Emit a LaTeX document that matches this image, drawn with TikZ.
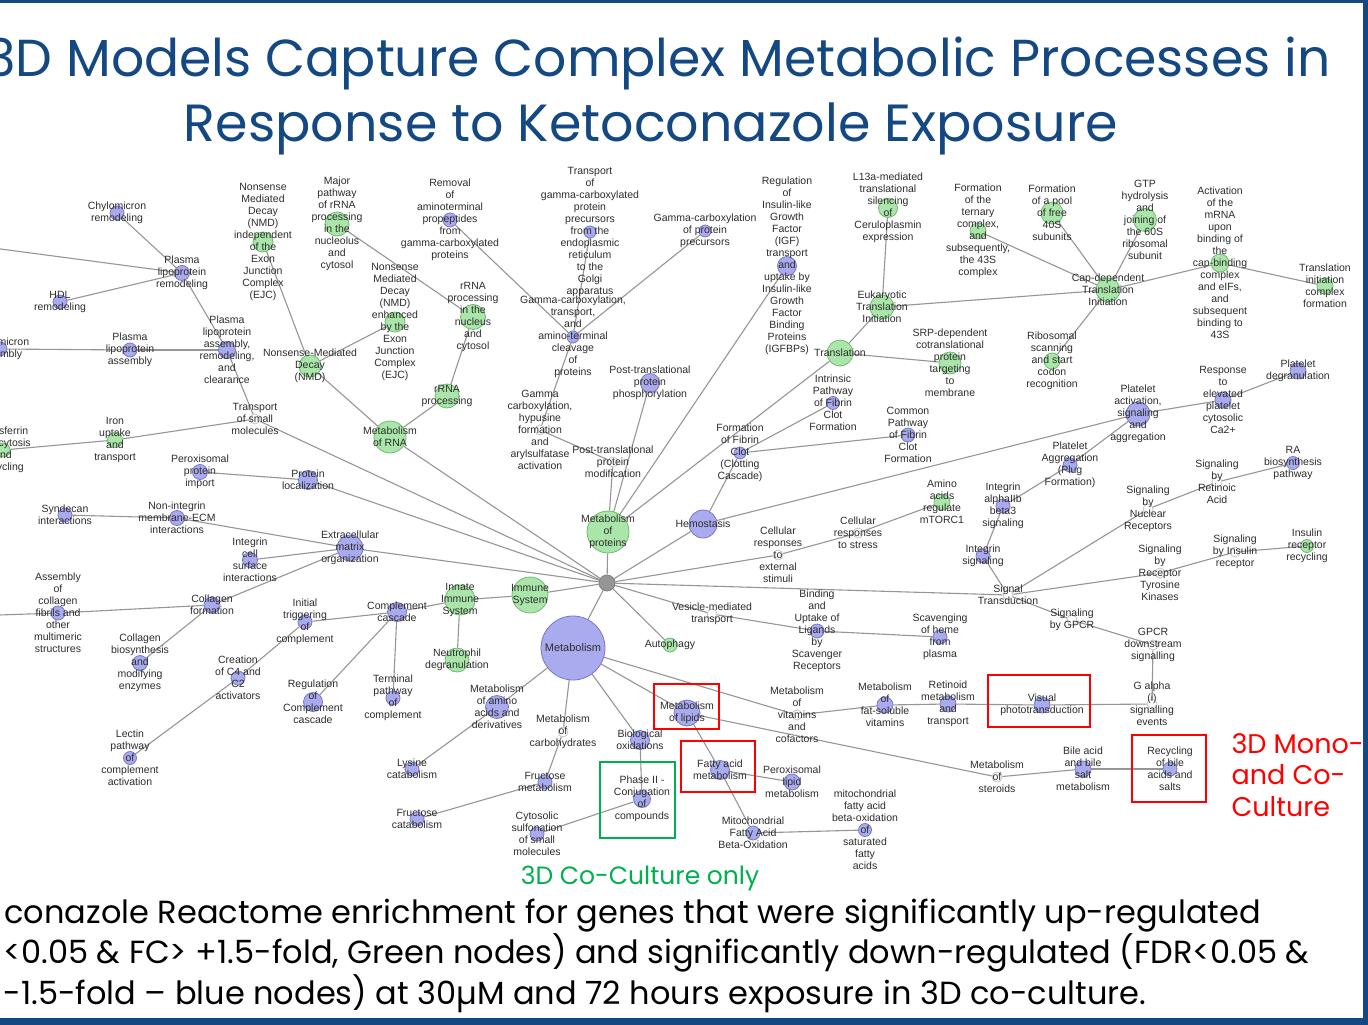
\documentclass[tikz,border=0pt]{standalone}
\usepackage{fontspec}
\setmainfont{Liberation Sans}
\newfontfamily\ttlfont{Poppins}
\usepackage{tikz}
\usetikzlibrary{backgrounds}
\usetikzlibrary{positioning}

\definecolor{bnfill}{RGB}{170,170,238}
\definecolor{bndraw}{RGB}{120,120,200}
\definecolor{gnfill}{RGB}{170,230,170}
\definecolor{gndraw}{RGB}{115,185,115}
\definecolor{wndraw}{RGB}{195,195,195}
\definecolor{hubfill}{RGB}{150,150,150}
\definecolor{edgegray}{RGB}{150,150,150}
\definecolor{lbltext}{RGB}{45,45,45}
\definecolor{ttlblue}{RGB}{20,72,130}
\definecolor{boxred}{RGB}{255,0,0}
\definecolor{boxgreen}{RGB}{0,176,80}

\newcommand{\lblfont}{\fontsize{10.5}{12}\selectfont}

\tikzset{
  pnode/.style={circle, inner sep=0pt, line width=0.8pt},
  bn/.style={pnode, draw=bndraw, fill=bnfill, minimum size=#1pt},
  gn/.style={pnode, draw=gndraw, fill=gnfill, minimum size=#1pt},
  wn/.style={pnode, draw=wndraw, fill=white, minimum size=#1pt},
  hubnode/.style={pnode, draw=gray, fill=hubfill, minimum size=16pt},
  markbox/.style={line width=2.4pt}
}

\begin{document}
\begin{tikzpicture}[x=1pt, y=-1pt]
	\useasboundingbox (0,0) rectangle (1368,1025);
	\begin{pgfonlayer}{background}
		\fill[white] (0,0) rectangle (1368,1025);
	\end{pgfonlayer}

	\fill[ttlblue] (0,0) rectangle (1368,3);
	\fill[ttlblue] (1363,0) rectangle (1368,1025);
	\fill[ttlblue] (0,1018) rectangle (1368,1025);

	\node[anchor=base east, font=\ttlfont\fontsize{52}{60}\selectfont, text=ttlblue] (title1) at (1334,77) {3D Models Capture Complex Metabolic Processes in};
	\node[anchor=base, font=\ttlfont\fontsize{52.3}{60}\selectfont, text=ttlblue] (title2) at (651,141) {Response to Ketoconazole Exposure};

	\begin{scope}[every label/.style={align=center, font=\lblfont, text=lbltext, inner sep=0pt}]
		\node[hubnode] (hub) at (607,583) {};
		\node[bn=64, label=center:{\fontsize{11}{12}\selectfont Metabolism}] (metab) at (573,648) {};
		\node[gn=42, label=center:{Metabolism\\of\\proteins}] (metprot) at (608,532) {};
		\node[gn=36, label=center:{Immune\\System}] (immune) at (530,595) {};
		\node[gn=30, label=center:{Innate\\Immune\\System}] (innate) at (460,600) {};
		\node[gn=24, label=center:{Neutrophil\\degranulation}] (neutro) at (457,660) {};
		\node[bn=28, label=center:{Hemostasis}] (hemo) at (703,524) {};
		\node[gn=32, label=center:{Metabolism\\of RNA}] (metrna) at (390,437) {};
		\node[wn=10, label=center:{Transport\\of small\\molecules}] (tsmall) at (255,419) {};
		\node[bn=19, label=center:{Protein\\localization}] (protloc) at (308,480) {};
		\node[bn=15, label=center:{Peroxisomal\\protein\\import}] (perox) at (200,472) {};
		\node[bn=26, label=center:{Extracellular\\matrix\\organization}] (ecm) at (350,548) {};
		\node[bn=15, label=center:{Non-integrin\\membrane-ECM\\interactions}] (nonint) at (177,518) {};
		\node[bn=14, label=center:{Syndecan\\interactions}] (synd) at (65,515) {};
		\node[bn=15, label=center:{Integrin\\cell\\surface\\interactions}] (intcell) at (250,560) {};
		\node[bn=16, label=center:{Collagen\\formation}] (colform) at (212,605) {};
		\node[bn=14, label=center:{Assembly\\of\\collagen\\fibrils and\\other\\multimeric\\structures}] (colasm) at (58,613) {};
		\node[bn=15, label=center:{Collagen\\biosynthesis\\and\\modifying\\enzymes}] (colbio) at (140,663) {};
		\node[bn=19, label=center:{Complement\\cascade}] (compl) at (397,612) {};
		\node[bn=14, label=center:{Initial\\triggering\\of\\complement}] (inittrig) at (305,622) {};
		\node[bn=14, label=center:{Creation\\of C4 and\\C2\\activators}] (creat) at (238,678) {};
		\node[bn=13, label=center:{Lectin\\pathway\\of\\complement\\activation}] (lectin) at (130,758) {};
		\node[bn=19, label=center:{Regulation\\of\\Complement\\cascade}] (regcompl) at (313,702) {};
		\node[bn=14, label=center:{Terminal\\pathway\\of\\complement}] (term) at (393,698) {};
		\node[gn=15, label=center:{Iron\\uptake\\and\\transport}] (iron) at (115,440) {};
		\node[gn=14, label=center:{Transferrin\\endocytosis\\and\\recycling}] (transf) at (3,450) {};
		\node[bn=17, label=center:{Plasma\\lipoprotein\\assembly,\\remodeling,\\and\\clearance}] (plasmacl) at (227,350) {};
		\node[bn=14, label=center:{Plasma\\lipoprotein\\assembly}] (plasmaasm) at (130,350) {};
		\node[bn=14, label=center:{Chylomicron\\assembly}] (chylasm) at (0,349) {};
		\node[bn=15, label=center:{Plasma\\lipoprotein\\remodeling}] (plasmarem) at (182,273) {};
		\node[bn=14, label=center:{Chylomicron\\remodeling}] (chylrem) at (117,213) {};
		\node[bn=14, label=center:{HDL\\remodeling}] (hdl) at (60,302) {};
		\coordinate (offlipo) at (-60,241);
		\coordinate (offcoll) at (-60,617);
		\node[gn=22, label=center:{Nonsense-Mediated\\Decay\\(NMD)}] (nmd) at (310,366) {};
		\node[gn=20, label=center:{Nonsense\\Mediated\\Decay\\(NMD)\\independent\\of the\\Exon\\Junction\\Complex\\(EJC)}] (nmdind) at (263,242) {};
		\node[gn=20, label=center:{Nonsense\\Mediated\\Decay\\(NMD)\\enhanced\\by the\\Exon\\Junction\\Complex\\(EJC)}] (nmdenh) at (395,322) {};
		\node[gn=24, label=center:{rRNA\\processing}] (rrna) at (447,396) {};
		\node[gn=25, label=center:{rRNA\\processing\\in the\\nucleus\\and\\cytosol}] (rrnanuc) at (473,317) {};
		\node[gn=24, label=center:{Major\\pathway\\of rRNA\\processing\\in the\\nucleolus\\and\\cytosol}] (majrrna) at (337,224) {};
		\node[bn=14, label=center:{Removal\\of\\aminoterminal\\propeptides\\from\\gamma-carboxylated\\proteins}] (removal) at (450,220) {};
		\node[bn=12, label=center:{Gamma-carboxylation,\\transport,\\and\\amino-terminal\\cleavage\\of\\proteins}] (gcleav) at (573,337) {};
		\node[bn=12, label=center:{Transport\\of\\gamma-carboxylated\\protein\\precursors\\from the\\endoplasmic\\reticulum\\to the\\Golgi\\apparatus}] (gtrans) at (590,232) {};
		\node[bn=12, label=center:{Gamma-carboxylation\\of protein\\precursors}] (gprec) at (705,231) {};
		\node[wn=10, label=center:{Gamma\\carboxylation,\\hypusine\\formation\\and\\arylsulfatase\\activation}] (ghyp) at (540,430) {};
		\node[wn=10, label=center:{Post-translational\\protein\\modification}] (ptmod) at (613,462) {};
		\node[bn=19, label=center:{Post-translational\\protein\\phosphorylation}] (ptphos) at (650,383) {};
		\node[bn=19, label=center:{Regulation\\of\\Insulin-like\\Growth\\Factor\\(IGF)\\transport\\and\\uptake by\\Insulin-like\\Growth\\Factor\\Binding\\Proteins\\(IGFBPs)}] (igf) at (787,266) {};
		\node[gn=26, label=center:{Translation}] (transl) at (840,353) {};
		\node[gn=24, label=center:{Eukaryotic\\Translation\\Initiation}] (euk) at (882,307) {};
		\node[gn=19, label=center:{L13a-mediated\\translational\\silencing\\of\\Ceruloplasmin\\expression}] (l13a) at (888,208) {};
		\node[gn=22, label=center:{SRP-dependent\\cotranslational\\protein\\targeting\\to\\membrane}] (srp) at (950,363) {};
		\node[gn=24, label=center:{Cap-dependent\\Translation\\Initiation}] (capdep) at (1108,290) {};
		\node[gn=16, label=center:{Formation\\of the\\ternary\\complex,\\and\\subsequently,\\the 43S\\complex}] (tern) at (978,231) {};
		\node[gn=22, label=center:{Formation\\of a pool\\of free\\40S\\subunits}] (pool) at (1052,213) {};
		\node[gn=23, label=center:{GTP\\hydrolysis\\and\\joining of\\the 60S\\ribosomal\\subunit}] (gtp) at (1145,220) {};
		\node[gn=18, label=center:{Activation\\of the\\mRNA\\upon\\binding of\\the\\cap-binding\\complex\\and eIFs,\\and\\subsequent\\binding to\\43S}] (actmrna) at (1220,263) {};
		\node[gn=16, label=center:{Translation\\initiation\\complex\\formation}] (ticf) at (1325,286) {};
		\node[gn=16, label=center:{Ribosomal\\scanning\\and start\\codon\\recognition}] (ribscan) at (1052,361) {};
		\node[bn=13, label=center:{Intrinsic\\Pathway\\of Fibrin\\Clot\\Formation}] (intrin) at (833,403) {};
		\node[bn=12, label=center:{Formation\\of Fibrin\\Clot\\(Clotting\\Cascade)}] (fibrin) at (740,453) {};
		\node[bn=14, label=center:{Common\\Pathway\\of Fibrin\\Clot\\Formation}] (common) at (908,435) {};
		\node[bn=24, label=center:{Platelet\\activation,\\signaling\\and\\aggregation}] (platact) at (1138,414) {};
		\node[bn=16, label=center:{Response\\to\\elevated\\platelet\\cytosolic\\Ca2+}] (resp) at (1223,400) {};
		\node[bn=16, label=center:{Platelet\\degranulation}] (platdeg) at (1298,371) {};
		\node[bn=14, label=center:{Platelet\\Aggregation\\(Plug\\Formation)}] (platagg) at (1070,465) {};
		\node[bn=14, label=center:{Integrin\\alphaIIb\\beta3\\signaling}] (intab) at (1003,506) {};
		\node[bn=14, label=center:{Integrin\\signaling}] (intsig) at (983,556) {};
		\node[wn=10, label=center:{Signal\\Transduction}] (sigtr) at (1008,595) {};
		\node[wn=10, label=center:{Signaling\\by\\Nuclear\\Receptors}] (nucrec) at (1148,509) {};
		\node[wn=10, label=center:{Signaling\\by\\Retinoic\\Acid}] (retac) at (1217,482) {};
		\node[bn=13, label=center:{RA\\biosynthesis\\pathway}] (rabio) at (1293,463) {};
		\node[wn=10, label=center:{Signaling\\by\\Receptor\\Tyrosine\\Kinases}] (rtk) at (1160,573) {};
		\node[wn=10, label=center:{Signaling\\by Insulin\\receptor}] (insrec) at (1235,552) {};
		\node[gn=13, label=center:{Insulin\\receptor\\recycling}] (insrecyc) at (1307,546) {};
		\node[wn=10, label=center:{Signaling\\by GPCR}] (gpcr) at (1072,620) {};
		\node[wn=10, label=center:{GPCR\\downstream\\signalling}] (gpcrds) at (1153,645) {};
		\node[wn=10, label=center:{G alpha\\(i)\\signalling\\events}] (galpha) at (1152,704) {};
		\node[bn=16, label=center:{Visual\\phototransduction}] (visual) at (1042,705) {};
		\node[bn=16, label=center:{Retinoid\\metabolism\\and\\transport}] (retinoid) at (948,704) {};
		\node[bn=16, label=center:{Metabolism\\of\\fat-soluble\\vitamins}] (fatsol) at (885,705) {};
		\node[wn=10, label=center:{Metabolism\\of\\vitamins\\and\\cofactors}] (vitam) at (797,715) {};
		\node[wn=10, label=center:{Cellular\\responses\\to\\external\\stimuli}] (cellext) at (778,555) {};
		\node[wn=10, label=center:{Cellular\\responses\\to stress}] (cellstr) at (858,533) {};
		\node[gn=16, label=center:{Amino\\acids\\regulate\\mTORC1}] (aamtor) at (942,502) {};
		\node[wn=10, label=center:{Vesicle-mediated\\transport}] (vesic) at (712,614) {};
		\node[bn=14, label=center:{Binding\\and\\Uptake of\\Ligands\\by\\Scavenger\\Receptors}] (bindup) at (817,631) {};
		\node[bn=14, label=center:{Scavenging\\of heme\\from\\plasma}] (scav) at (940,637) {};
		\node[gn=14, label=center:{Autophagy}] (autoph) at (670,645) {};
		\node[bn=23, label=center:{Metabolism\\of amino\\acids and\\derivatives}] (metaa) at (497,707) {};
		\node[bn=14, label=center:{Lysine\\catabolism}] (lysine) at (412,769) {};
		\node[wn=10, label=center:{Metabolism\\of\\carbohydrates}] (metcarb) at (563,732) {};
		\node[bn=14, label=center:{Fructose\\metabolism}] (frucmet) at (545,782) {};
		\node[bn=14, label=center:{Fructose\\catabolism}] (fruccat) at (417,819) {};
		\node[bn=19, label=center:{Biological\\oxidations}] (bioox) at (640,740) {};
		\node[bn=17, label=center:{Phase II -\\Conjugation\\of\\compounds}] (phase2) at (642,799) {};
		\node[bn=14, label=center:{Cytosolic\\sulfonation\\of small\\molecules}] (cytsulf) at (537,834) {};
		\node[bn=26, label=center:{Metabolism\\of lipids}] (lipids) at (687,713) {};
		\node[bn=19, label=center:{Fatty acid\\metabolism}] (fatty) at (720,770) {};
		\node[bn=16, label=center:{Peroxisomal\\lipid\\metabolism}] (peroxlip) at (792,782) {};
		\node[bn=14, label=center:{Mitochondrial\\Fatty Acid\\Beta-Oxidation}] (mitofa) at (753,833) {};
		\node[bn=13, label=center:{mitochondrial\\fatty acid\\beta-oxidation\\of\\saturated\\fatty\\acids}] (mitosat) at (865,830) {};
		\node[wn=10, label=center:{Metabolism\\of\\steroids}] (steroid) at (997,777) {};
		\node[bn=16, label=center:{Bile acid\\and bile\\salt\\metabolism}] (bile) at (1083,769) {};
		\node[bn=14, label=center:{Recycling\\of bile\\acids and\\salts}] (recyc) at (1170,769) {};
	\end{scope}

	\begin{pgfonlayer}{background}
	\begin{scope}[every edge/.style={draw=edgegray, line width=1.1pt}]
		\path (hub) edge (metab) edge (metprot) edge (immune) edge (hemo) edge (metrna) edge (tsmall)
		      edge (protloc) edge (ecm) edge (autoph) edge (vesic) edge (sigtr) edge (cellext);
		\path (cellext) edge (cellstr);
		\path (cellstr) edge (aamtor);
		\path (metprot) edge (ptmod) edge (transl) edge (igf) edge (ptphos);
		\path (ptmod) edge (ghyp);
		\path (ghyp) edge (gcleav);
		\path (gcleav) edge (removal) edge (gtrans) edge (gprec);
		\path (metrna) edge (nmd) edge (rrna);
		\path (nmd) edge (nmdind) edge (nmdenh);
		\path (rrna) edge (rrnanuc);
		\path (rrnanuc) edge (majrrna);
		\path (tsmall) edge (iron) edge (plasmacl);
		\path (iron) edge (transf);
		\path (plasmacl) edge (plasmaasm) edge (plasmarem);
		\path (plasmaasm) edge (chylasm);
		\path (plasmarem) edge (chylrem) edge (hdl) edge (offlipo);
		\path (protloc) edge (perox);
		\path (ecm) edge (nonint) edge (intcell) edge (colform);
		\path (nonint) edge (synd);
		\path (colform) edge (colasm) edge (colbio);
		\path (colasm) edge (offcoll);
		\path (immune) edge (innate);
		\path (innate) edge (neutro) edge (compl);
		\path (compl) edge (inittrig) edge (regcompl) edge (term);
		\path (inittrig) edge (creat);
		\path (creat) edge (lectin);
		\path (hemo) edge (fibrin) edge (platact);
		\path (fibrin) edge (intrin) edge (common);
		\path (platact) edge (resp) edge (platagg);
		\path (resp) edge (platdeg);
		\path (platagg) edge (intab);
		\path (intab) edge (intsig);
		\path (intsig) edge (sigtr);
		\path (sigtr) edge (nucrec) edge (rtk) edge (gpcr);
		\path (nucrec) edge (retac);
		\path (retac) edge (rabio);
		\path (rtk) edge (insrec);
		\path (insrec) edge (insrecyc);
		\path (gpcr) edge (gpcrds);
		\path (gpcrds) edge (galpha);
		\path (galpha) edge (visual);
		\path (visual) edge (retinoid);
		\path (retinoid) edge (fatsol);
		\path (fatsol) edge (vitam);
		\path (vitam) edge (metab);
		\path (vesic) edge (bindup);
		\path (bindup) edge (scav);
		\path (metab) edge (lipids) edge (bioox) edge (metcarb) edge (metaa);
		\path (lipids) edge (steroid) edge (fatty);
		\path (steroid) edge (bile);
		\path (bile) edge (recyc);
		\path (fatty) edge (mitofa) edge (peroxlip);
		\path (mitofa) edge (mitosat);
		\path (bioox) edge (phase2);
		\path (phase2) edge (cytsulf);
		\path (metcarb) edge (frucmet);
		\path (frucmet) edge (fruccat);
		\path (metaa) edge (lysine);
		\path (transl) edge (euk) edge (srp);
		\path (euk) edge (l13a) edge (capdep);
		\path (capdep) edge (tern) edge (pool) edge (gtp) edge (actmrna) edge (ribscan);
		\path (actmrna) edge (ticf);
	\end{scope}
	\end{pgfonlayer}

	\draw[markbox, boxred] (654,684) rectangle (719,729);
	\draw[markbox, boxred] (681,741) rectangle (755,792);
	\draw[markbox, boxred] (988,675) rectangle (1090,727);
	\draw[markbox, boxred] (1132,735) rectangle (1206,802);
	\draw[markbox, boxgreen] (600,762) rectangle (675,838);

	\node[anchor=west, align=left, font=\ttlfont\fontsize{27}{31.5}\selectfont, text=boxred] (monoco) at (1228,775) {3D Mono-\\and Co-\\Culture};
	\node[font=\ttlfont\fontsize{25}{30}\selectfont, text=boxgreen] (coonly) at (640,878) {3D Co-Culture only};

	\node[anchor=base west, font=\ttlfont\fontsize{32}{40}\selectfont] (cap1) at (1,923) {conazole Reactome enrichment for genes that were significantly up-regulated};
	\node[anchor=base west, font=\ttlfont\fontsize{32}{40}\selectfont] (cap2) at (0,963) {<0.05 \& FC> +1.5-fold, Green nodes) and significantly down-regulated (FDR<0.05 \&};
	\node[anchor=base west, font=\ttlfont\fontsize{32}{40}\selectfont] (cap3) at (0,1004) {-1.5-fold – blue nodes) at 30µM and 72 hours exposure in 3D co-culture.};
\end{tikzpicture}
\end{document}
